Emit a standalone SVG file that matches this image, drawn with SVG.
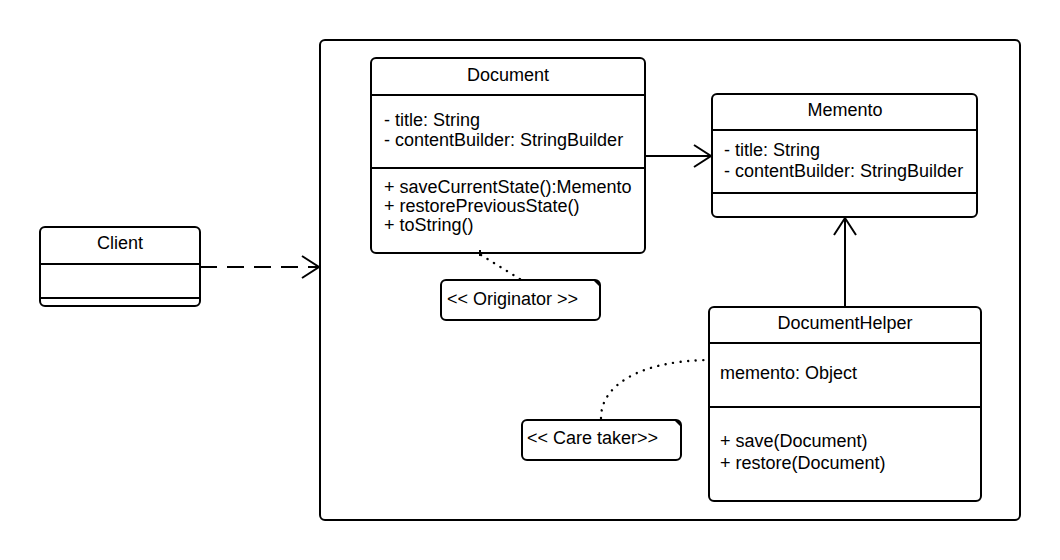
<svg xmlns="http://www.w3.org/2000/svg" width="1060" height="560" viewBox="0 0 1060 560">
<style>
.box{fill:#fff;stroke:#000;stroke-width:2}
.ln{stroke:#000;stroke-width:2;fill:none}
.t{font-family:"Liberation Sans",Arial,sans-serif;font-size:18px;fill:#000;dominant-baseline:central}
.c{text-anchor:middle}
.dot{stroke:#000;stroke-width:2.4;fill:none;stroke-dasharray:0.1 7.5;stroke-linecap:round}
</style>
<defs>
<marker id="open" markerWidth="20" markerHeight="24" refX="18" refY="12" orient="auto" markerUnits="userSpaceOnUse">
<path d="M1,1 L18,12 L1,23" fill="none" stroke="#000" stroke-width="2"/>
</marker>
</defs>
<rect width="1060" height="560" fill="#fff"/>
<g id="frame"><rect class="box" x="320" y="40" width="700" height="480" rx="5"/></g>
<g id="client">
<rect class="box" x="40" y="227" width="160" height="79" rx="5"/>
<line class="ln" x1="40" y1="264" x2="200" y2="264"/>
<line class="ln" x1="40" y1="298" x2="200" y2="298"/>
<text class="t c" x="120" y="243">Client</text>
</g>
<g id="document">
<rect class="box" x="371" y="58" width="274" height="195" rx="5"/>
<line class="ln" x1="371" y1="95" x2="645" y2="95"/>
<line class="ln" x1="371" y1="168" x2="645" y2="168"/>
<text class="t c" x="508" y="75">Document</text>
<text class="t" x="384" y="120">- title: String</text>
<text class="t" x="384" y="140">- contentBuilder: StringBuilder</text>
<text class="t" x="384" y="187">+ saveCurrentState():Memento</text>
<text class="t" x="384" y="206">+ restorePreviousState()</text>
<text class="t" x="384" y="225">+ toString()</text>
</g>
<g id="memento">
<rect class="box" x="712" y="94" width="265" height="123" rx="5"/>
<line class="ln" x1="712" y1="130" x2="977" y2="130"/>
<line class="ln" x1="712" y1="193" x2="977" y2="193"/>
<text class="t c" x="845" y="110">Memento</text>
<text class="t" x="724" y="150">- title: String</text>
<text class="t" x="724" y="171">- contentBuilder: StringBuilder</text>
</g>
<g id="documenthelper">
<rect class="box" x="709" y="307" width="272" height="194" rx="5"/>
<line class="ln" x1="709" y1="343" x2="981" y2="343"/>
<line class="ln" x1="709" y1="407" x2="981" y2="407"/>
<text class="t c" x="845" y="323">DocumentHelper</text>
<text class="t" x="720" y="373">memento: Object</text>
<text class="t" x="720" y="441">+ save(Document)</text>
<text class="t" x="720" y="463">+ restore(Document)</text>
</g>
<g id="originator">
<rect class="box" x="441" y="280" width="159" height="40" rx="5"/>
<path d="M594,281 L599,281 L599,286 Z" fill="#000"/>
<text class="t" x="447" y="299">&lt;&lt; Originator &gt;&gt;</text>
</g>
<g id="caretaker">
<rect class="box" x="522" y="420" width="159" height="40" rx="5"/>
<path d="M675,421 L680,421 L680,426 Z" fill="#000"/>
<text class="t" x="527" y="438">&lt;&lt; Care taker&gt;&gt;</text>
</g>
<g id="connectors">
<line class="ln" x1="200" y1="267" x2="319" y2="267" stroke-dasharray="17 10" marker-end="url(#open)"/>
<line class="ln" x1="645" y1="156" x2="711" y2="156" marker-end="url(#open)"/>
<line class="ln" x1="845" y1="306" x2="845" y2="218" marker-end="url(#open)"/>
<line class="ln" x1="480" y1="250" x2="480" y2="256" stroke-width="1.5"/>
<path class="dot" d="M481,255 L520,279"/>
<path class="dot" d="M601,418 C601,385 640,361 708,360"/>
</g>
</svg>
